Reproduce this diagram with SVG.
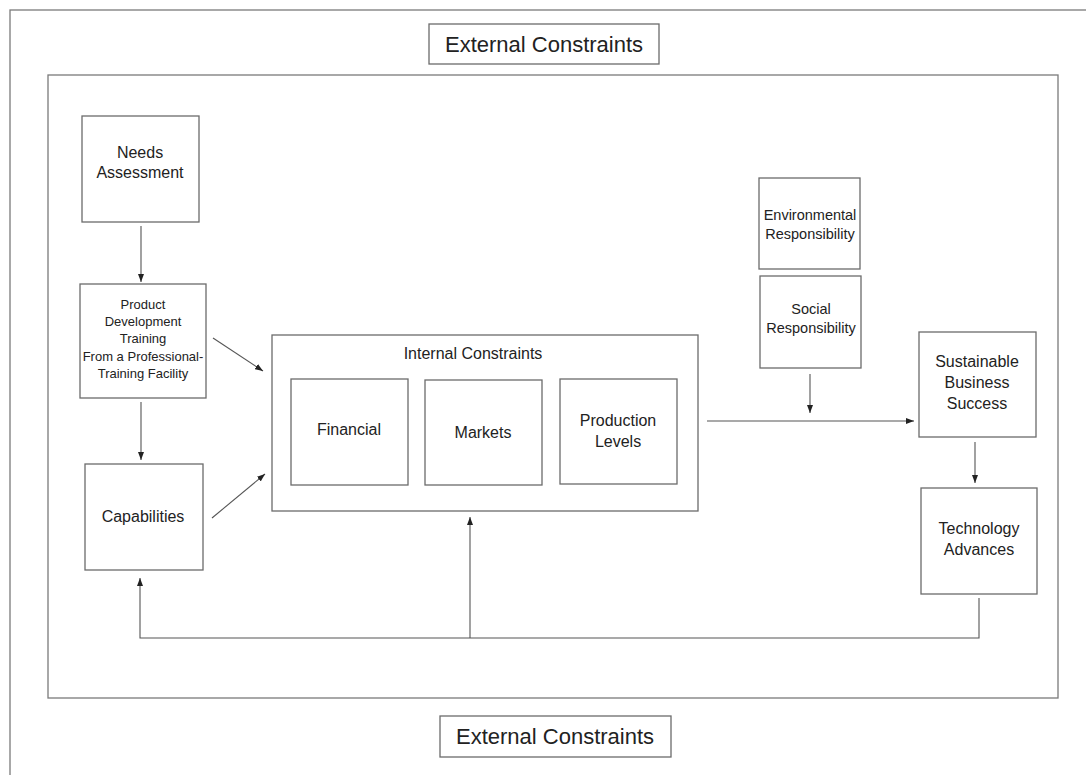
<svg xmlns="http://www.w3.org/2000/svg" width="1086" height="775" viewBox="0 0 1086 775">
<style>
.box{fill:#fff;stroke:#6b6b6b;stroke-width:1.3}
.frame{fill:none;stroke:#7a7a7a;stroke-width:1.3}
.t{font-family:"Liberation Sans",Arial,sans-serif;fill:#222;text-anchor:middle}
.conn{fill:none;stroke:#555;stroke-width:1.1}
</style>
<defs>
<marker id="ah" markerWidth="8" markerHeight="6" refX="8" refY="3" orient="auto" markerUnits="userSpaceOnUse">
<path d="M0,0 L8,3 L0,6 Z" fill="#222"/>
</marker>
</defs>
<rect x="0" y="0" width="1086" height="775" fill="#fff"/>
<rect class="frame" x="10" y="10" width="1090" height="800"/>
<rect class="frame" x="48" y="75" width="1010" height="623"/>

<g id="ext-top"><rect class="box" x="429" y="24" width="230" height="40"/><text class="t" x="544" y="52" font-size="22">External Constraints</text></g>
<g id="ext-bottom"><rect class="box" x="440" y="716" width="231" height="41"/><text class="t" x="555" y="744" font-size="22">External Constraints</text></g>

<g id="needs"><rect class="box" x="82" y="116" width="117" height="106"/><text class="t" x="140" y="158" font-size="16">Needs</text><text class="t" x="140" y="178" font-size="16">Assessment</text></g>
<g id="product"><rect class="box" x="80" y="284" width="126" height="114"/>
<text class="t" font-size="13"><tspan x="143" y="309">Product</tspan><tspan x="143" y="326">Development</tspan><tspan x="143" y="343">Training</tspan><tspan x="143" y="361">From a Professional-</tspan><tspan x="143" y="378">Training Facility</tspan></text></g>
<g id="capabilities"><rect class="box" x="85" y="464" width="118" height="106"/><text class="t" x="143" y="522" font-size="16">Capabilities</text></g>

<g id="internal"><rect class="box" x="272" y="335" width="426" height="176"/><text class="t" x="473" y="359" font-size="16">Internal Constraints</text></g>
<g id="financial"><rect class="box" x="291" y="379" width="117" height="106"/><text class="t" x="349" y="435" font-size="16">Financial</text></g>
<g id="markets"><rect class="box" x="425" y="380" width="117" height="105"/><text class="t" x="483" y="438" font-size="16">Markets</text></g>
<g id="production"><rect class="box" x="560" y="379" width="117" height="105"/><text class="t" x="618" y="426" font-size="16">Production</text><text class="t" x="618" y="447" font-size="16">Levels</text></g>

<g id="environmental"><rect class="box" x="759" y="178" width="101" height="91"/><text class="t" x="810" y="220" font-size="14.5">Environmental</text><text class="t" x="810" y="239" font-size="14.5">Responsibility</text></g>
<g id="social"><rect class="box" x="760" y="276" width="101" height="92"/><text class="t" x="811" y="314" font-size="14.5">Social</text><text class="t" x="811" y="333" font-size="14.5">Responsibility</text></g>
<g id="sustainable"><rect class="box" x="919" y="332" width="117" height="105"/><text class="t" x="977" y="367" font-size="16">Sustainable</text><text class="t" x="977" y="388" font-size="16">Business</text><text class="t" x="977" y="409" font-size="16">Success</text></g>
<g id="technology"><rect class="box" x="921" y="488" width="116" height="106"/><text class="t" x="979" y="534" font-size="16">Technology</text><text class="t" x="979" y="555" font-size="16">Advances</text></g>

<g id="connectors">
<line class="conn" x1="141" y1="226" x2="141" y2="282" marker-end="url(#ah)"/>
<line class="conn" x1="141" y1="402" x2="141" y2="460" marker-end="url(#ah)"/>
<line class="conn" x1="213" y1="338" x2="263" y2="371" marker-end="url(#ah)"/>
<line class="conn" x1="212" y1="518" x2="265" y2="474" marker-end="url(#ah)"/>
<line class="conn" x1="707" y1="421" x2="914" y2="421" marker-end="url(#ah)"/>
<line class="conn" x1="810" y1="374" x2="810" y2="413" marker-end="url(#ah)"/>
<line class="conn" x1="975" y1="442" x2="975" y2="483" marker-end="url(#ah)"/>
<polyline class="conn" points="979,598 979,638 140,638 140,578" marker-end="url(#ah)"/>
<line class="conn" x1="470" y1="638" x2="470" y2="517" marker-end="url(#ah)"/>
</g>
</svg>
